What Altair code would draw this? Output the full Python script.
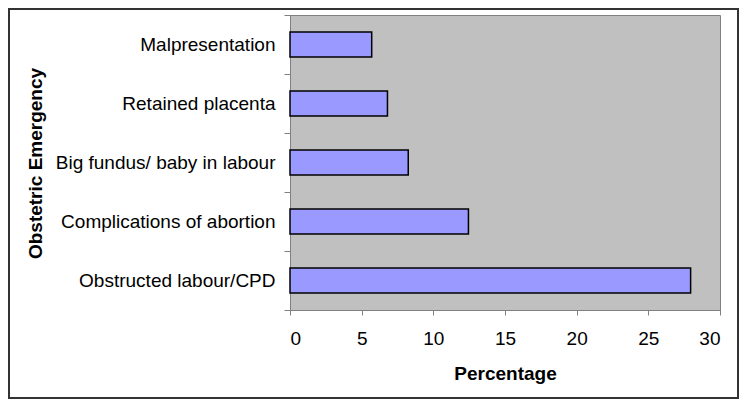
import altair as alt
import pandas as pd

categories = [
    "Malpresentation",
    "Retained placenta",
    "Big fundus/ baby in labour",
    "Complications of abortion",
    "Obstructed labour/CPD",
]
values = [5.7, 6.8, 8.25, 12.45, 27.95]

df = pd.DataFrame({"emergency": categories, "pct": values})

FONT = "Liberation Sans"

bars = alt.Chart(df).mark_bar(
    color="#9999FF", stroke="#000000", strokeWidth=1.5, size=25
).encode(
    x=alt.X(
        "pct:Q",
        title="Percentage",
        scale=alt.Scale(domain=[0, 30], nice=False),
        axis=alt.Axis(
            values=[0, 5, 10, 15, 20, 25, 30],
            grid=False,
            tickSize=5,
            tickColor="#808080",
            domainColor="#808080",
            labelFont=FONT,
            labelFontSize=19,
            labelColor="#000000",
            labelPadding=14,
            titleFont=FONT,
            titleFontSize=19,
            titleFontWeight="bold",
            titleColor="#000000",
            titleY=63,
            titleBaseline="middle",
        ),
    ),
    y=alt.Y(
        "emergency:N",
        sort=categories,
        title="Obstetric Emergency",
        scale=alt.Scale(paddingInner=0, paddingOuter=0),
        axis=alt.Axis(
            tickBand="extent",
            tickSize=6,
            tickColor="#808080",
            domainColor="#808080",
            labelFont=FONT,
            labelFontSize=19,
            labelColor="#000000",
            labelPadding=9,
            labelLimit=400,
            titleFont=FONT,
            titleFontSize=19,
            titleFontWeight="bold",
            titleColor="#000000",
            titleAngle=270,
            titleX=-255,
            titleY=148,
            titleAlign="center",
            titleBaseline="middle",
        ),
    ),
)

frame = alt.Chart(df).mark_rect(
    fill=None, stroke="#333333", strokeWidth=2, clip=False
).encode(
    x=alt.value(-281),
    x2=alt.value(448),
    y=alt.value(-6),
    y2=alt.value(383),
)

chart = alt.layer(bars, frame).properties(
    width=430,
    height=295,
    autosize=alt.AutoSizeParams(type="none"),
    padding={"left": 282, "top": 7, "right": 19, "bottom": 89},
).configure(
    background="#FFFFFF"
).configure_view(
    fill="#C0C0C0", stroke="#808080", strokeWidth=1
)

chart.save("out.html", embed_options={"renderer": "svg", "actions": False})
